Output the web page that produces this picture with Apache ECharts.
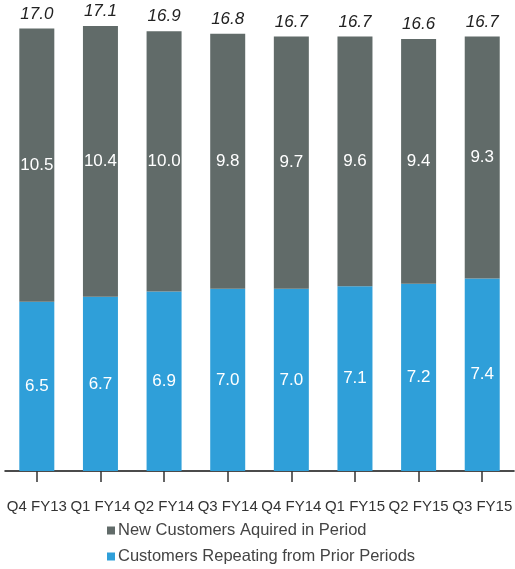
<!DOCTYPE html>
<html>
<head>
<meta charset="utf-8">
<script src="https://cdn.jsdelivr.net/npm/echarts@6/dist/echarts.min.js"></script>
<style>html,body{margin:0;padding:0;background:#fff;}#c{width:515px;height:569px;}</style>
</head>
<body>
<div id="c"></div>
<script>
const categories = ['Q4 FY13','Q1 FY14','Q2 FY14','Q3 FY14','Q4 FY14','Q1 FY15','Q2 FY15','Q3 FY15'];
const repeating = [6.5, 6.7, 6.9, 7.0, 7.0, 7.1, 7.2, 7.4];
const newCust = [10.5, 10.4, 10.0, 9.8, 9.7, 9.6, 9.4, 9.3];
const totals = [17.0, 17.1, 16.9, 16.8, 16.7, 16.7, 16.6, 16.7];

const GREY = '#616b69';
const BLUE = '#2f9fd9';
const FONT = 'Liberation Sans, Arial, sans-serif';
const chart = echarts.init(document.getElementById('c'));
chart.setOption({
  animation: false,
  grid: { left: 5, width: 513, top: 26, bottom: 98 },
  legend: {
    top: 522, left: 107, orient: 'vertical', padding: 0, itemWidth: 8, itemHeight: 8, itemGap: 9,
    icon: 'rect',
    data: ['New Customers Aquired in Period', 'Customers Repeating from Prior Periods'],
    textStyle: { fontFamily: FONT, fontSize: 16.5, lineHeight: 17, color: '#444', padding: [0, 0, 0, -2] }
  },
  xAxis: {
    type: 'category', data: categories,
    axisLine: { show: true, lineStyle: { color: '#111', width: 1.5 } },
    axisTick: { show: true, alignWithLabel: true, interval: 0, length: 11, lineStyle: { color: '#333', width: 1.5 } },
    axisLabel: { interval: 0, margin: 28, fontFamily: FONT, fontSize: 15, color: '#333' }
  },
  yAxis: { type: 'value', min: 0, max: 17.1, show: false, splitLine: { show: false } },
  series: [
    { name: 'Customers Repeating from Prior Periods', type: 'bar', stack: 'a', data: repeating,
      barWidth: 35, itemStyle: { color: BLUE },
      label: { show: true, position: 'inside', color: '#fff', fontFamily: FONT, fontSize: 17,
        formatter: p => p.value.toFixed(1) } },
    { name: 'New Customers Aquired in Period', type: 'bar', stack: 'a', data: newCust,
      barWidth: 35, itemStyle: { color: GREY },
      label: { show: true, position: 'inside', color: '#fff', fontFamily: FONT, fontSize: 17,
        formatter: p => p.value.toFixed(1) } },
    { name: 'total', type: 'bar', stack: 'a', data: categories.map(() => 0), barWidth: 35,
      itemStyle: { color: 'transparent' },
      label: { show: true, position: 'top', distance: 6, color: '#222', fontStyle: 'italic',
        fontFamily: FONT, fontSize: 17,
        formatter: p => totals[p.dataIndex].toFixed(1) } }
  ]
});
</script>
</body>
</html>
